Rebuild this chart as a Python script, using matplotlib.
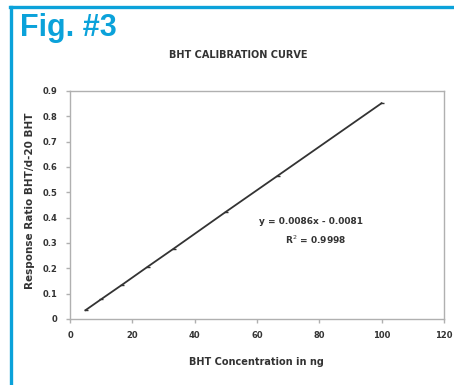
import matplotlib
matplotlib.use("Agg")
import matplotlib.pyplot as plt
from matplotlib.lines import Line2D

# calibration points
conc_ng = [5, 10, 16.7, 25, 33.3, 50, 66.7, 100]
ratio = [0.035, 0.078, 0.135, 0.207, 0.278, 0.423, 0.566, 0.852]
x_ticks = [0, 20, 40, 60, 80, 100, 120]
y_ticks = [0, 0.1, 0.2, 0.3, 0.4, 0.5, 0.6, 0.7, 0.8, 0.9]
y_labels = ["0", "0.1", "0.2", "0.3", "0.4", "0.5", "0.6", "0.7", "0.8", "0.9"]

plt.rcParams['font.family'] = ['DejaVu Sans']
W, H = 454, 385
fig = plt.figure(figsize=(W / 100, H / 100), dpi=100)
fig.patch.set_facecolor("white")

blue = "#0ba2da"
dark = "#333333"
# blue frame (top and left edges)
fig.add_artist(Line2D([10 / W, 1], [1 - 7 / H, 1 - 7 / H], color=blue, lw=2.4,
                      transform=fig.transFigure))
fig.add_artist(Line2D([11 / W, 11 / W], [0, 1 - 7 / H], color=blue, lw=2.4,
                      transform=fig.transFigure))
fig.text(20 / W, 1 - 28 / H, "Fig. #3", color=blue, fontsize=22, fontweight="bold",
         family="Liberation Sans", ha="left", va="center")

ax = fig.add_axes([70 / W, 66 / H, 374 / W, 228 / H])
ax.plot(conc_ng, ratio, color=dark, lw=1.3, marker="_", ms=3, mew=1)
ax.set_xlim(0, 120)
ax.set_ylim(0, 0.9)
ax.set_xticks(x_ticks)
ax.set_yticks(y_ticks)
ax.set_yticklabels(y_labels)
gray = "#b0b0b0"
for s in ax.spines.values():
    s.set_color(gray)
    s.set_linewidth(1)
ax.tick_params(direction="out", length=3, width=1, color=gray, labelsize=6,
               labelcolor=dark, pad=6)
for lab in ax.get_xticklabels() + ax.get_yticklabels():
    lab.set_fontweight("bold")

fig.text(256 / W, 1 - 362 / H, "BHT Concentration in ng", fontsize=7, fontweight="bold",
         color=dark, ha="center", va="center")
fig.text(30 / W, 1 - 201 / H, "Response Ratio BHT/d-20 BHT", fontsize=7.5,
         fontweight="bold", color=dark, ha="center", va="center", rotation=90)
fig.text(238 / W, 1 - 55 / H, "BHT CALIBRATION CURVE", fontsize=7, fontweight="bold",
         color=dark, ha="center", va="center")

fig.text(311 / W, 1 - 221 / H, "y = 0.0086x - 0.0081", fontsize=6.5, fontweight="bold",
         color=dark, ha="center", va="center")
fig.text(316 / W, 1 - 240 / H, "R$^2$ = 0.9998", fontsize=6.5, fontweight="bold",
         color=dark, ha="center", va="center")

fig.savefig("out.png", dpi=100)
